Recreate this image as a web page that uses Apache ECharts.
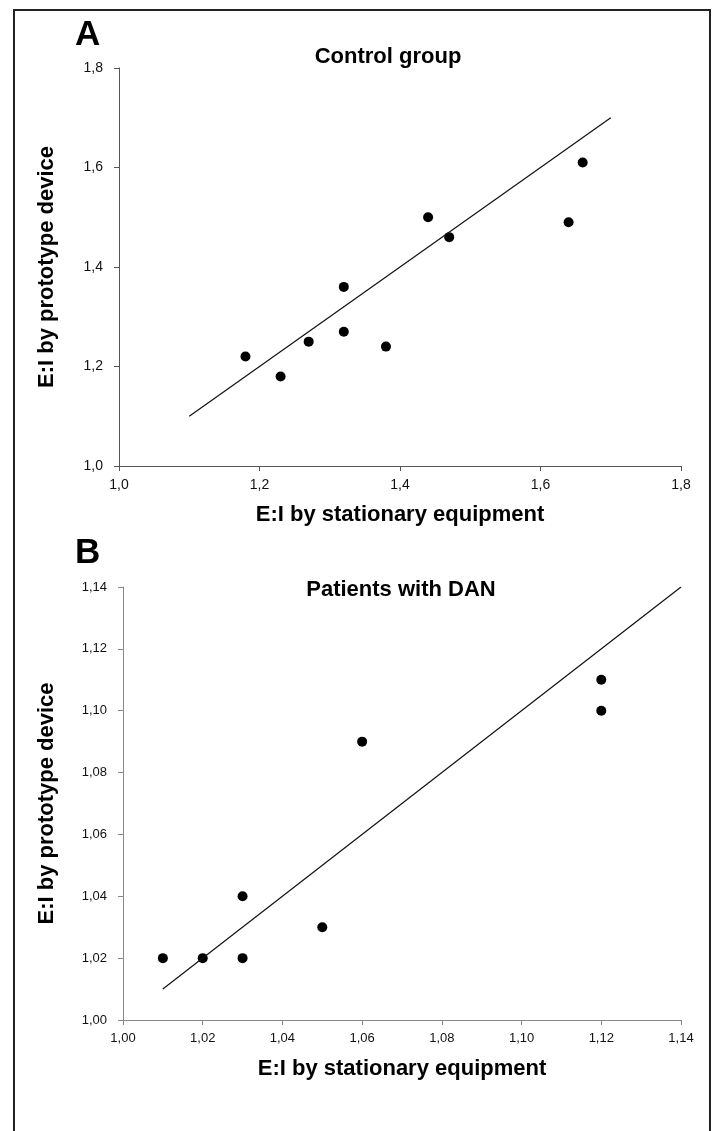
<!DOCTYPE html>
<html>
<head>
<meta charset="utf-8">
<script src="https://cdn.jsdelivr.net/npm/echarts@6/dist/echarts.min.js"></script>
<style>
  html, body { margin: 0; padding: 0; background: #fff; }
  #chart { width: 714px; height: 1131px; }
</style>
</head>
<body>
<div id="chart"></div>
<script>
// panel A - control group
var ctrlX = [1.18, 1.23, 1.27, 1.32, 1.32, 1.38, 1.44, 1.47, 1.64, 1.66];
var ctrlY = [1.22, 1.18, 1.25, 1.36, 1.27, 1.24, 1.50, 1.46, 1.49, 1.61];
var ctrlLineX = [1.1, 1.7];
var ctrlLineY = [1.1, 1.7];
var ctrlTicks = [1.0, 1.2, 1.4, 1.6, 1.8];

// panel B - patients with DAN
var danX = [1.01, 1.02, 1.03, 1.03, 1.05, 1.06, 1.12, 1.12];
var danY = [1.02, 1.02, 1.02, 1.04, 1.03, 1.09, 1.11, 1.10];
var danLineX = [1.01, 1.14];
var danLineY = [1.01, 1.14];
var danTicks = [1.00, 1.02, 1.04, 1.06, 1.08, 1.10, 1.12, 1.14];

var FONT = "Liberation Sans, Arial, sans-serif";
var chart = echarts.init(document.getElementById("chart"));

function pairs(xs, ys) {
  return xs.map(function (x, i) { return [x, ys[i]]; });
}
function comma(d) {
  return function (v) { return v.toFixed(d).replace(".", ","); };
}
function valueAxis(idx, ticks, dec, col, isX, name, gap) {
  var ax = {
    type: "value",
    gridIndex: idx,
    min: ticks[0],
    max: ticks[ticks.length - 1],
    interval: ticks[1] - ticks[0],
    splitLine: { show: false },
    axisLine: { show: true, lineStyle: { color: col, width: 1 } },
    axisTick: { show: true, length: 5, lineStyle: { color: col } },
    axisLabel: {
      formatter: comma(dec),
      color: "#111",
      fontFamily: FONT,
      fontSize: dec === 1 ? 14 : 13,
      margin: isX ? 12 : 16,
      showMinLabel: true,
      showMaxLabel: true
    },
    name: name,
    nameLocation: "middle",
    nameGap: gap,
    nameTextStyle: { fontFamily: FONT, fontWeight: "bold", fontSize: 22, color: "#000" }
  };
  if (!isX) ax.nameRotate = 90;
  return ax;
}

var option = {
  backgroundColor: "#fff",
  animation: false,
  graphic: [
    { type: "rect", shape: { x: 14, y: 10, width: 696, height: 1140 },
      style: { fill: "none", stroke: "#222", lineWidth: 2 } },
    { type: "text", x: 75, y: 18, style: { text: "A", font: "bold 35px " + FONT, fill: "#000" } },
    { type: "text", x: 388, y: 46, style: { text: "Control group", font: "bold 22px " + FONT, fill: "#000", textAlign: "center" } },
    { type: "text", x: 75, y: 536, style: { text: "B", font: "bold 35px " + FONT, fill: "#000" } },
    { type: "text", x: 401, y: 579, style: { text: "Patients with DAN", font: "bold 22px " + FONT, fill: "#000", textAlign: "center" } }
  ],
  grid: [
    { left: 119, top: 68, right: 33, height: 398 },
    { left: 123, top: 587, right: 33, height: 433 }
  ],
  xAxis: [
    valueAxis(0, ctrlTicks, 1, "#555", true, "E:I by stationary equipment", 38),
    valueAxis(1, danTicks, 2, "#888", true, "E:I by stationary equipment", 38)
  ],
  yAxis: [
    valueAxis(0, ctrlTicks, 1, "#555", false, "E:I by prototype device", 61),
    valueAxis(1, danTicks, 2, "#888", false, "E:I by prototype device", 65)
  ],
  series: [
    { type: "line", xAxisIndex: 0, yAxisIndex: 0, data: pairs(ctrlLineX, ctrlLineY),
      symbol: "none", lineStyle: { color: "#111", width: 1.2 } },
    { type: "scatter", xAxisIndex: 0, yAxisIndex: 0, data: pairs(ctrlX, ctrlY),
      symbolSize: 10, itemStyle: { color: "#000", opacity: 1 } },
    { type: "line", xAxisIndex: 1, yAxisIndex: 1, data: pairs(danLineX, danLineY),
      symbol: "none", lineStyle: { color: "#111", width: 1.2 } },
    { type: "scatter", xAxisIndex: 1, yAxisIndex: 1, data: pairs(danX, danY),
      symbolSize: 10, itemStyle: { color: "#000", opacity: 1 } }
  ]
};
chart.setOption(option);
</script>
</body>
</html>
